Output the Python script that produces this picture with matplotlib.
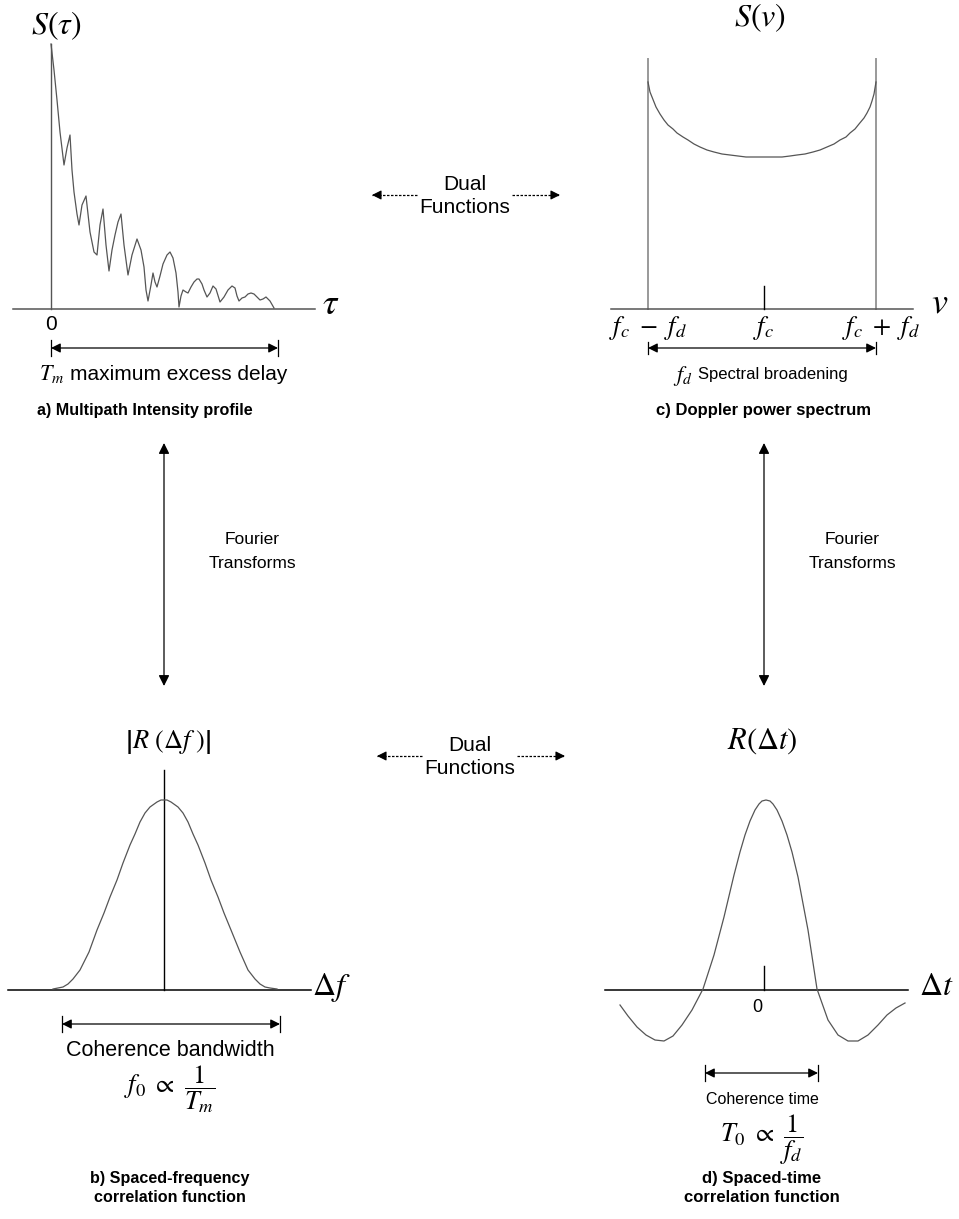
import matplotlib
matplotlib.use("Agg")
import matplotlib.pyplot as plt

plt.rcParams["font.family"] = ["Liberation Sans", "DejaVu Sans"]
plt.rcParams["mathtext.fontset"] = "stix"

# ---------------------------------------------------------------------------
# Curve samples (diagram units: x to the right, y downwards)
# ---------------------------------------------------------------------------

# a) multipath intensity profile S(tau)
profile_x = [51, 54, 57, 60, 64, 67, 70, 72, 74, 77, 79, 82, 86, 90, 94, 97, 100,
             103, 106, 109, 112, 115, 118, 121, 124, 128, 132, 137, 141, 144,
             146, 148, 151, 153, 155, 157, 160, 163, 167, 170, 173, 176, 178,
             179, 181, 183, 186, 188, 191, 194, 197, 199, 202, 204, 207, 210,
             213, 216, 220, 224, 228, 232, 235, 237, 239, 242, 245, 248, 251,
             254, 257, 260, 263, 266, 270, 274]
profile_y = [44, 70, 100, 132, 165, 148, 135, 170, 192, 214, 225, 205, 196, 232,
             252, 255, 225, 209, 245, 271, 250, 235, 222, 214, 245, 275, 255,
             239, 250, 267, 290, 301, 285, 273, 282, 287, 276, 264, 255, 252,
             258, 273, 292, 307, 296, 290, 292, 293, 287, 282, 279, 279, 284,
             290, 297, 293, 286, 289, 302, 297, 290, 286, 288, 296, 301, 298,
             297, 294, 293, 294, 297, 300, 299, 297, 301, 308]

# c) Doppler power spectrum S(v)
doppler_x = [648, 649, 650, 652, 654, 656, 660, 664, 668, 673, 677, 683, 688,
             694, 700, 707, 714, 722, 730, 738, 746, 755, 764, 773, 782, 790,
             797, 805, 813, 820, 827, 834, 840, 846, 850, 855, 859, 864, 867,
             870, 872, 874, 875, 876]
doppler_y = [82, 87, 92, 97, 102, 107, 114, 120, 125, 129, 133, 137, 140, 144,
             147, 150, 152, 154, 155, 156, 157, 157, 157, 157, 157, 156, 155,
             154, 152, 150, 147, 144, 140, 137, 133, 129, 124, 118, 113, 107,
             101, 94, 88, 82]

# b) spaced-frequency correlation |R(df)|
freq_corr_x = [53, 58, 63, 68, 73, 80, 89, 97, 104, 110, 117, 123, 130, 135,
               140, 145, 150, 157, 161, 164, 167, 171, 178, 183, 188, 193, 198,
               205, 211, 218, 224, 231, 240, 248, 255, 260, 265, 270, 277]
freq_corr_y = [989, 988, 987, 984, 979, 970, 952, 930, 913, 897, 880, 863, 845,
               834, 822, 813, 807, 802, 800, 800, 800, 802, 807, 813, 822, 834,
               845, 863, 880, 897, 913, 930, 952, 970, 979, 984, 987, 988, 989]

# d) spaced-time correlation R(dt)
time_corr_x = [620, 628, 637, 646, 655, 664, 673, 682, 692, 703, 714, 724, 734,
               740, 745, 750, 755, 759, 762, 766, 770, 773, 777, 782, 787, 792,
               798, 808, 817, 828, 838, 848, 858, 868, 878, 887, 896, 905]
time_corr_y = [1005, 1016, 1027, 1035, 1040, 1041, 1036, 1025, 1010, 989, 955,
               917, 875, 852, 835, 821, 810, 804, 801, 800, 801, 804, 810, 821,
               835, 852, 877, 930, 989, 1020, 1035, 1041, 1041, 1035, 1025, 1015,
               1008, 1003]

CURVE = "#555555"
BOLD = 12


def span_arrow(ax, x0, x1, y, bar=8):
    """Horizontal double arrow with end bars."""
    ax.annotate("", xy=(x1, y), xytext=(x0, y),
                arrowprops=dict(arrowstyle="<|-|>", color="k", lw=0.9,
                                mutation_scale=14, shrinkA=0, shrinkB=0))
    ax.plot([x0, x0], [y - bar, y + bar], color="k", lw=0.9)
    ax.plot([x1, x1], [y - bar, y + bar], color="k", lw=0.9)


def dual_arrows(ax, xc, y, text_y):
    """Dashed arrows pointing away from the 'Dual Functions' label."""
    for start, tip in ((xc - 48, xc - 93), (xc + 47, xc + 95)):
        ax.plot([start, tip], [y, y], color="k", lw=0.9, ls=(0, (2, 1.2)))
        step = 8 if tip < start else -8
        ax.annotate("", xy=(tip, y), xytext=(tip + step, y),
                    arrowprops=dict(arrowstyle="-|>", color="k", lw=0.8,
                                    mutation_scale=14, shrinkA=0, shrinkB=0))
    ax.text(xc, text_y, "Dual\nFunctions", ha="center", va="center",
            fontsize=15, linespacing=1.3)


def fourier_arrow(ax, x, text_x):
    ax.annotate("", xy=(x, 686), xytext=(x, 443),
                arrowprops=dict(arrowstyle="<|-|>", color="k", lw=0.9,
                                mutation_scale=16, shrinkA=0, shrinkB=0))
    ax.text(text_x, 551, "Fourier\nTransforms", ha="center", va="center",
            fontsize=12.5, linespacing=1.75)


fig = plt.figure(figsize=(9.59, 12.19), dpi=100)
ax = fig.add_axes([0, 0, 1, 1])
ax.set_xlim(0, 959)
ax.set_ylim(1219, 0)
ax.axis("off")

# ---- a) Multipath intensity profile ----
ax.plot([51, 51], [44, 309], color=CURVE, lw=1.0)
ax.plot([13, 315], [309, 309], color=CURVE, lw=1.1)
ax.plot(profile_x, profile_y, color=CURVE, lw=0.9)
ax.text(56, 26, r"$S\left(\tau\right)$", ha="center", va="center", fontsize=23)
ax.text(331, 305, r"$\tau$", ha="center", va="center", fontsize=26)
ax.text(51, 325, "0", ha="center", va="center", fontsize=15)
span_arrow(ax, 51, 278, 348)
ax.text(52, 374, r"$T_m$", ha="center", va="center", fontsize=16)
ax.text(70, 374, "maximum excess delay", ha="left", va="center", fontsize=15)
ax.text(145, 411, "a) Multipath Intensity profile", ha="center", va="center",
        fontsize=11.6, fontweight="bold")

# ---- c) Doppler power spectrum ----
ax.plot([648, 648], [59, 309], color="#999999", lw=1.4)
ax.plot([876, 876], [59, 309], color="#999999", lw=1.4)
ax.plot([611, 913], [309, 309], color=CURVE, lw=1.1)
ax.plot([764, 764], [286, 309], color="k", lw=1.0)
ax.plot(doppler_x, doppler_y, color=CURVE, lw=0.9)
ax.text(760, 18, r"$S\left(v\right)$", ha="center", va="center", fontsize=23)
ax.text(940, 303, r"$v$", ha="center", va="center", fontsize=26)
ax.text(648, 328, r"$f_c\ -\ f_d$", ha="center", va="center", fontsize=19)
ax.text(764, 328, r"$f_c$", ha="center", va="center", fontsize=19)
ax.text(881, 328, r"$f_c\ +\ f_d$", ha="center", va="center", fontsize=19)
span_arrow(ax, 648, 876, 348, bar=6)
ax.text(683, 376, r"$f_d$", ha="center", va="center", fontsize=16)
ax.text(698, 374, "Spectral broadening", ha="left", va="center", fontsize=12)
ax.text(764, 411, "c) Doppler power spectrum", ha="center", va="center",
        fontsize=BOLD, fontweight="bold")

# ---- links between panels ----
dual_arrows(ax, 465, 195, 196)
dual_arrows(ax, 470, 756, 757)
fourier_arrow(ax, 164, 252)
fourier_arrow(ax, 764, 852)

# ---- b) Spaced-frequency correlation ----
ax.plot([164, 164], [770, 990], color="k", lw=1.0)
ax.plot([8, 311], [990, 990], color="k", lw=1.1)
ax.plot(freq_corr_x, freq_corr_y, color=CURVE, lw=0.9)
ax.text(168, 742, r"$\left|R\ (\Delta f\ )\right|$", ha="center", va="center",
        fontsize=19)
ax.text(331, 988, r"$\Delta f$", ha="center", va="center", fontsize=23)
span_arrow(ax, 62, 280, 1024)
ax.text(170, 1051, "Coherence bandwidth", ha="center", va="center", fontsize=15.5)
ax.text(170, 1089, r"$f_0\ \propto\ \dfrac{1}{T_m}$", ha="center", va="center",
        fontsize=19)
ax.text(170, 1188, "b) Spaced-frequency\ncorrelation function", ha="center",
        va="center", fontsize=11.6, fontweight="bold", linespacing=1.3)

# ---- d) Spaced-time correlation ----
ax.plot([605, 908], [990, 990], color="k", lw=1.1)
ax.plot([764, 764], [966, 990], color="k", lw=1.0)
ax.plot(time_corr_x, time_corr_y, color=CURVE, lw=0.9)
ax.text(762, 741, r"$R\left(\Delta t\right)$", ha="center", va="center",
        fontsize=22)
ax.text(936, 987, r"$\Delta t$", ha="center", va="center", fontsize=23)
ax.text(757, 1007, "0", ha="center", va="center", fontsize=13)
span_arrow(ax, 705, 818, 1073)
ax.text(762, 1100, "Coherence time", ha="center", va="center", fontsize=11.5)
ax.text(762, 1140, r"$T_0\ \propto\ \dfrac{1}{f_d}$", ha="center", va="center",
        fontsize=19)
ax.text(762, 1188, "d) Spaced-time\ncorrelation function", ha="center",
        va="center", fontsize=BOLD, fontweight="bold", linespacing=1.3)

fig.savefig("out.png", dpi=100)
